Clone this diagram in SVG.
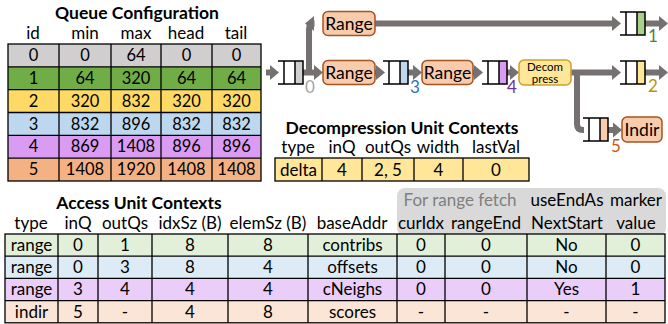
<svg xmlns="http://www.w3.org/2000/svg" width="668" height="324" viewBox="0 0 668 324">
<style>
text{font-family:Lato,"Liberation Sans",sans-serif;fill:#000}
.t{font-size:17.5px;font-weight:bold;text-anchor:middle}
.h{font-size:17px;text-anchor:middle}
.c{font-size:16.5px;text-anchor:middle}
.d{font-size:17px;text-anchor:middle}
.a{font-size:17px;text-anchor:middle}
.cell{stroke:#000;stroke-width:1.3}
.conn{fill:none;stroke:#767171;stroke-width:6}
.q{fill:none;stroke:#000;stroke-width:1.5}
.rng{fill:#F8CBAD;stroke:#A5541E;stroke-width:1.5}
.dec{fill:#FFE699;stroke:#C9A227;stroke-width:1.5}
.bl{font-size:17.5px;text-anchor:middle}
.ql{font-size:17px}
.sm{font-size:11.5px;text-anchor:middle}
</style>
<defs>
<marker id="ah" markerUnits="userSpaceOnUse" markerWidth="9" markerHeight="15" refX="0" refY="7.5" orient="auto" viewBox="0 0 9 15">
<path d="M0,0 L9,7.5 L0,15 z" fill="#767171"/>
</marker>
</defs>

<!-- Queue Configuration table -->
<g id="queue-config">
<text class="t" x="137" y="18.5">Queue Configuration</text>
<text class="h" x="33" y="38.5">id</text>
<text class="h" x="85" y="38.5">min</text>
<text class="h" x="136" y="38.5">max</text>
<text class="h" x="186" y="38.5">head</text>
<text class="h" x="236" y="38.5">tail</text>
<rect x="8" y="44" width="253" height="22.8" fill="#D0CECE"/>
<rect x="8" y="66.8" width="253" height="22.9" fill="#70AD47"/>
<rect x="8" y="89.7" width="253" height="22.8" fill="#FFD966"/>
<rect x="8" y="112.5" width="253" height="22.8" fill="#BDD7EE"/>
<rect x="8" y="135.3" width="253" height="22.9" fill="#DA9CF3"/>
<rect x="8" y="158.2" width="253" height="22.8" fill="#F4B183"/>
<g class="cell" fill="none">
<rect x="8" y="44" width="253" height="137"/>
<path d="M8,66.8H261M8,89.7H261M8,112.5H261M8,135.3H261M8,158.2H261M59,44V181M111,44V181M161,44V181M212,44V181"/>
</g>
<text class="c" x="33.5" y="61">0</text><text class="c" x="85" y="61">0</text><text class="c" x="136" y="61">64</text><text class="c" x="186.5" y="61">0</text><text class="c" x="236.5" y="61">0</text>
<text class="c" x="33.5" y="83.8">1</text><text class="c" x="85" y="83.8">64</text><text class="c" x="136" y="83.8">320</text><text class="c" x="186.5" y="83.8">64</text><text class="c" x="236.5" y="83.8">64</text>
<text class="c" x="33.5" y="106.7">2</text><text class="c" x="85" y="106.7">320</text><text class="c" x="136" y="106.7">832</text><text class="c" x="186.5" y="106.7">320</text><text class="c" x="236.5" y="106.7">320</text>
<text class="c" x="33.5" y="129.5">3</text><text class="c" x="85" y="129.5">832</text><text class="c" x="136" y="129.5">896</text><text class="c" x="186.5" y="129.5">832</text><text class="c" x="236.5" y="129.5">832</text>
<text class="c" x="33.5" y="152.3">4</text><text class="c" x="85" y="152.3">869</text><text class="c" x="136" y="152.3">1408</text><text class="c" x="186.5" y="152.3">896</text><text class="c" x="236.5" y="152.3">896</text>
<text class="c" x="33.5" y="175.2">5</text><text class="c" x="85" y="175.2">1408</text><text class="c" x="136" y="175.2">1920</text><text class="c" x="186.5" y="175.2">1408</text><text class="c" x="236.5" y="175.2">1408</text>
</g>

<!-- Connectors -->
<g id="connectors">
<path class="conn" d="M266,72.5H270" marker-end="url(#ah)"/>
<path class="conn" d="M303,72.5H314" marker-end="url(#ah)"/>
<path class="conn" d="M309,72.5V29Q309,23.5 314.5,23.5H314" marker-end="url(#ah)"/>
<path class="conn" d="M375,72.5H376" marker-end="url(#ah)"/>
<path class="conn" d="M408,72.5H413" marker-end="url(#ah)"/>
<path class="conn" d="M473,72.5H474" marker-end="url(#ah)"/>
<path class="conn" d="M507,72.5H510" marker-end="url(#ah)"/>
<path class="conn" d="M571,72.5H612" marker-end="url(#ah)"/>
<path class="conn" d="M577,72.5V124Q577,130 583,130H584"/>
<path class="conn" d="M608,130H613" marker-end="url(#ah)"/>
<path class="conn" d="M375,23.5H612" marker-end="url(#ah)"/>
<path class="conn" d="M645,23.5H659" marker-end="url(#ah)"/>
<path class="conn" d="M645,72.5H659" marker-end="url(#ah)"/>
</g>

<!-- Queues -->
<g id="q0"><rect x="295" y="61" width="8" height="23" fill="#D0CECE"/><path class="q" d="M278,61H303V84H278M284,61V84M295,61V84"/><text class="ql" x="305" y="93" style="fill:#A6A6A6">0</text></g>
<g id="q3"><rect x="400" y="61" width="8" height="23" fill="#BDD7EE"/><path class="q" d="M383,61H408V84H383M389,61V84M400,61V84"/><text class="ql" x="410" y="93" style="fill:#2E75B6">3</text></g>
<g id="q4"><rect x="499" y="61" width="8" height="23" fill="#D99CF2"/><path class="q" d="M482,61H507V84H482M488,61V84M499,61V84"/><text class="ql" x="507" y="93" style="fill:#7030A0">4</text></g>
<g id="q1"><rect x="637" y="12" width="8" height="23" fill="#A9D18E"/><path class="q" d="M620,12H645V35H620M626,12V35M637,12V35"/><text class="ql" x="648" y="42" style="fill:#548235">1</text></g>
<g id="q2"><rect x="637" y="61" width="8" height="23" fill="#FFE699"/><path class="q" d="M620,61H645V84H620M626,61V84M637,61V84"/><text class="ql" x="648" y="92" style="fill:#BF9000">2</text></g>
<g id="q5"><rect x="600" y="118" width="8" height="23" fill="#F8CBAD"/><path class="q" d="M583,118H608V141H583M589,118V141M600,118V141"/><text class="ql" x="611" y="152" style="fill:#C55A11">5</text></g>

<!-- Units -->
<g id="range1"><rect class="rng" x="323" y="11.5" width="52" height="24" rx="5"/><text class="bl" x="349" y="29.5">Range</text></g>
<g id="range2"><rect class="rng" x="323" y="60.5" width="52" height="24" rx="5"/><text class="bl" x="349" y="78.5">Range</text></g>
<g id="range3"><rect class="rng" x="422" y="60.5" width="51" height="24" rx="5"/><text class="bl" x="447.5" y="78.5">Range</text></g>
<g id="decompress"><rect class="dec" x="519" y="60" width="52" height="25" rx="5"/><text class="sm" x="545" y="70.5">Decom</text><text class="sm" x="545" y="82.5">press</text></g>
<g id="indir"><rect class="rng" x="622" y="117" width="40" height="25" rx="5"/><text class="bl" x="642" y="135.5">Indir</text></g>

<!-- Decompression Unit Contexts -->
<g id="decomp-contexts">
<text class="t" x="402" y="134">Decompression Unit Contexts</text>
<text class="d" x="298" y="153">type</text>
<text class="d" x="342" y="153">inQ</text>
<text class="d" x="388" y="153">outQs</text>
<text class="d" x="438" y="153">width</text>
<text class="d" x="496" y="153">lastVal</text>
<rect class="cell" x="275" y="158" width="254" height="23" fill="#FFE699"/>
<path class="cell" d="M322,158V181M362,158V181M414,158V181M463,158V181"/>
<text class="d" x="298.5" y="175.5">delta</text>
<text class="d" x="342" y="175.5">4</text>
<text class="d" x="388" y="175.5">2, 5</text>
<text class="d" x="438.5" y="175.5">4</text>
<text class="d" x="496" y="175.5">0</text>
</g>

<!-- Access Unit Contexts -->
<g id="access-contexts">
<rect x="397" y="188" width="269" height="48" rx="8" fill="#D9D9D9"/>
<text class="t" x="139" y="209">Access Unit Contexts</text>
<text class="a" x="460" y="206" style="fill:#7F7F7F">For range fetch</text>
<text class="a" x="567" y="206">useEndAs</text>
<text class="a" x="636" y="206">marker</text>
<text class="a" x="31" y="229">type</text>
<text class="a" x="78" y="229">inQ</text>
<text class="a" x="125" y="229">outQs</text>
<text class="a" x="190" y="229">idxSz (B)</text>
<text class="a" x="268" y="229">elemSz (B)</text>
<text class="a" x="352" y="229">baseAddr</text>
<text class="a" x="421" y="229">curIdx</text>
<text class="a" x="486" y="229">rangeEnd</text>
<text class="a" x="567" y="229">NextStart</text>
<text class="a" x="636" y="229">value</text>
<rect x="5" y="234" width="660" height="22.2" fill="#E2F0D9"/>
<rect x="5" y="256.2" width="660" height="22.2" fill="#DDEBF7"/>
<rect x="5" y="278.4" width="660" height="22.2" fill="#EBCDF9"/>
<rect x="5" y="300.6" width="660" height="22.2" fill="#FBE5D6"/>
<g class="cell" fill="none">
<rect x="5" y="234" width="660" height="88.8"/>
<path d="M5,256.2H665M5,278.4H665M5,300.6H665M58,234V322.8M98,234V322.8M152,234V322.8M228,234V322.8M308,234V322.8M397,234V322.8M445,234V322.8M527,234V322.8M606,234V322.8"/>
</g>
<text class="a" x="31.5" y="251">range</text><text class="a" x="78" y="251">0</text><text class="a" x="125" y="251">1</text><text class="a" x="190" y="251">8</text><text class="a" x="268" y="251">8</text><text class="a" x="352.5" y="251">contribs</text><text class="a" x="421" y="251">0</text><text class="a" x="486" y="251">0</text><text class="a" x="566.5" y="251">No</text><text class="a" x="635.5" y="251">0</text>
<text class="a" x="31.5" y="273.2">range</text><text class="a" x="78" y="273.2">0</text><text class="a" x="125" y="273.2">3</text><text class="a" x="190" y="273.2">8</text><text class="a" x="268" y="273.2">4</text><text class="a" x="352.5" y="273.2">offsets</text><text class="a" x="421" y="273.2">0</text><text class="a" x="486" y="273.2">0</text><text class="a" x="566.5" y="273.2">No</text><text class="a" x="635.5" y="273.2">0</text>
<text class="a" x="31.5" y="295.4">range</text><text class="a" x="78" y="295.4">3</text><text class="a" x="125" y="295.4">4</text><text class="a" x="190" y="295.4">4</text><text class="a" x="268" y="295.4">4</text><text class="a" x="352.5" y="295.4">cNeighs</text><text class="a" x="421" y="295.4">0</text><text class="a" x="486" y="295.4">0</text><text class="a" x="566.5" y="295.4">Yes</text><text class="a" x="635.5" y="295.4">1</text>
<text class="a" x="31.5" y="317.6">indir</text><text class="a" x="78" y="317.6">5</text><text class="a" x="125" y="317.6">-</text><text class="a" x="190" y="317.6">4</text><text class="a" x="268" y="317.6">8</text><text class="a" x="352.5" y="317.6">scores</text><text class="a" x="421" y="317.6">-</text><text class="a" x="486" y="317.6">-</text><text class="a" x="566.5" y="317.6">-</text><text class="a" x="635.5" y="317.6">-</text>
</g>
</svg>
